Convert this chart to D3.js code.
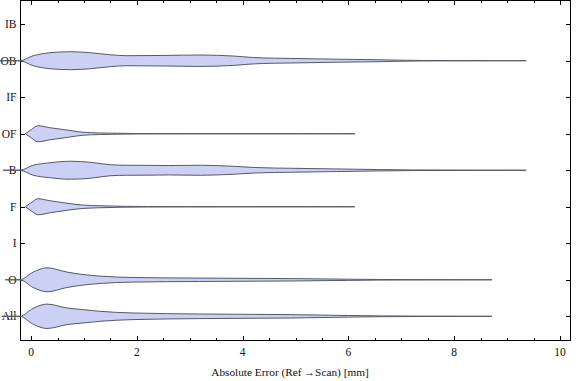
<!DOCTYPE html>
<html><head><meta charset="utf-8">
<script src="https://cdn.jsdelivr.net/npm/d3@7"></script>
<style>body{margin:0;background:#fff}svg{display:block}text{font-family:"Liberation Serif","Times New Roman",serif}</style>
</head><body>
<script>
// Categories, top to bottom
const categories = ["IB","OB","IF","OF","B","F","I","O","All"];
const xTicks = [0,2,4,6,8,10];
const xLabel = "Absolute Error (Ref\u2009\u2192Scan) [mm]";
// Smoothed density profiles: error values [mm] and density
const obValues = [-0.59,-0.21,0.04,0.36,0.74,1.12,1.49,1.81,2.57,3.19,3.82,4.2,4.6,4.9,5.78,6.54,7.03,7.5,9.36];
const obDensity = [0,0.005,0.25,0.4,0.45,0.4,0.3,0.25,0.265,0.285,0.235,0.16,0.125,0.115,0.075,0.05,0.025,0.01,0];
const ofValues = [-0.11,0.0,0.13,0.36,0.68,0.98,1.3,1.63,2.0,3.0,6.12];
const ofDensity = [0,0.2,0.4,0.3,0.185,0.075,0.04,0.025,0.01,0.005,0];
const bValues = [-0.53,-0.21,0.04,0.36,0.74,1.12,1.49,1.81,2.25,2.6,3.2,3.82,4.2,4.6,4.9,5.78,6.54,7.2,9.36];
const bDensity = [0,0.005,0.25,0.375,0.45,0.4,0.275,0.25,0.245,0.235,0.25,0.2,0.14,0.11,0.1,0.065,0.035,0.015,0];
const fValues = [-0.11,0.0,0.13,0.36,0.68,0.98,1.3,1.7,2.2,3.0,6.12];
const fDensity = [0,0.2,0.4,0.3,0.175,0.085,0.05,0.025,0.01,0.005,0];
const oValues = [-0.49,-0.21,0.04,0.3,0.68,0.98,1.3,1.93,3.19,4.9,6.0,6.6,7.5,8.71];
const oDensity = [0,0.005,0.385,0.6,0.385,0.265,0.185,0.115,0.085,0.06,0.03,0.015,0.005,0];
const allValues = [-0.55,-0.21,0.04,0.3,0.68,0.98,1.3,1.93,3.19,4.9,6.0,6.6,7.5,8.71];
const allDensity = [0,0.005,0.4,0.61,0.415,0.335,0.25,0.165,0.115,0.085,0.04,0.02,0.008,0];

const series = [
  {cat:"OB", v:obValues, d:obDensity},
  {cat:"OF", v:ofValues, d:ofDensity},
  {cat:"B", v:bValues, d:bDensity},
  {cat:"F", v:fValues, d:fDensity},
  {cat:"O", v:oValues, d:oDensity},
  {cat:"All", v:allValues, d:allDensity}
];

const W=576,H=381;
const L=20.5,R=570.5,T=0.5,B=340.5;
const svg=d3.select("body").append("svg").attr("width",W).attr("height",H);
const x=d3.scaleLinear().domain([-0.2,10.2]).range([20.5,570.6]);
const y=d3.scalePoint().domain(categories).range([24.2,316.3]);
const w=d3.scaleLinear().domain([0,1]).range([0,20]);

// frame
svg.append("rect").attr("x",L).attr("y",T).attr("width",R-L).attr("height",B-T)
  .attr("fill","none").attr("stroke","#000").attr("stroke-width",1);

// x ticks (minor every 0.5)
const minor=d3.range(0,10.01,0.5);
minor.forEach(t=>{
  const major = Math.abs(t%2)<1e-6;
  const len = major?4.5:2.5;
  const xx=Math.round(x(t))+0.5;
  svg.append("line").attr("x1",xx).attr("x2",xx).attr("y1",B).attr("y2",B-len).attr("stroke","#000");
  svg.append("line").attr("x1",xx).attr("x2",xx).attr("y1",T).attr("y2",T+len).attr("stroke","#000");
});
xTicks.forEach(t=>{
  svg.append("text").attr("x",x(t)).attr("y",355.5).attr("text-anchor","middle")
    .attr("font-size",11.5).attr("fill","#111").text(t);
});
svg.append("text").attr("x",290).attr("y",375.5).attr("text-anchor","middle")
  .attr("font-size",11.3).attr("fill","#111").text(xLabel);

// y ticks
categories.forEach(c=>{
  const yy=Math.round(y(c))+0.5;
  svg.append("line").attr("x1",L).attr("x2",L+4.5).attr("y1",yy).attr("y2",yy).attr("stroke","#000");
  svg.append("line").attr("x1",R).attr("x2",R-4.5).attr("y1",yy).attr("y2",yy).attr("stroke","#000");
  svg.append("text").attr("x",16.5).attr("y",y(c)+4).attr("text-anchor","end")
    .attr("font-size",11.5).attr("fill","#111").text(c);
});

// violins
series.forEach(s=>{
  const pts=s.v.map((v,i)=>({v:v,d:s.d[i]}));
  const cy=y(s.cat);
  const area=d3.area().curve(d3.curveMonotoneX)
    .x(p=>x(p.v)).y0(p=>cy+w(p.d)).y1(p=>cy-w(p.d));
  svg.append("path").attr("d",area(pts)).attr("fill","#ccd0f5")
    .attr("stroke","#555a66").attr("stroke-width",1).attr("stroke-linejoin","round");
});
</script>
</body></html>
